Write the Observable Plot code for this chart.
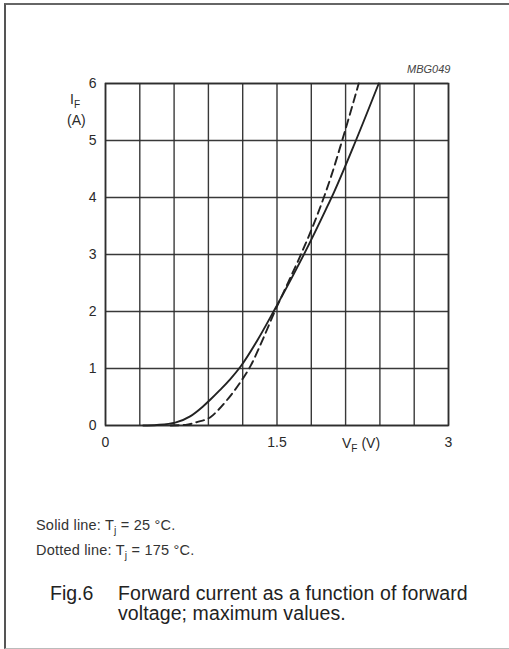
<!DOCTYPE html>
<html>
<head>
<meta charset="utf-8">
<script src="https://cdn.jsdelivr.net/npm/d3@7"></script>
<script src="https://cdn.jsdelivr.net/npm/@observablehq/plot@0.6"></script>
<style>
  html, body { margin: 0; padding: 0; background: #fff; }
  #page { position: relative; width: 509px; height: 649px; overflow: hidden; background: #fff;
          font-family: "Liberation Sans", Arial, Helvetica, sans-serif; color: #2a2a2a; }
  #border { position: absolute; left: 4px; top: 3px; width: 520px; height: 643px;
            border-left: 2px solid #555; border-top: 2px solid #666; border-bottom: 1px solid #bbb; }
  #chart { position: absolute; left: 0; top: 0; }
  .lbl { position: absolute; white-space: nowrap; line-height: 1; }
  .lbl sub { font-size: 0.72em; vertical-align: -0.35em; line-height: 0; }
</style>
</head>
<body>
<div id="page">
  <div id="border"></div>
  <div id="chart"></div>
  <div class="lbl" style="left:407px; top:64px; font-size:11px; font-style:italic; color:#444;">MBG049</div>
  <div class="lbl" style="left:70px; top:92px; font-size:14px;">I<sub>F</sub></div>
  <div class="lbl" style="left:67px; top:113px; font-size:14px;">(A)</div>
  <div class="lbl" style="left:342px; top:436px; font-size:14px;">V<sub>F</sub> (V)</div>
  <div class="lbl" style="left:36px; top:518px; font-size:14.5px; letter-spacing:0.2px; color:#333;">Solid line: T<sub>j</sub> = 25 °C.</div>
  <div class="lbl" style="left:36px; top:543px; font-size:14.5px; letter-spacing:0.2px; color:#333;">Dotted line: T<sub>j</sub> = 175 °C.</div>
  <div class="lbl" style="left:50px; top:584px; font-size:19.5px; color:#222;">Fig.6</div>
  <div class="lbl" style="left:118px; top:584px; font-size:19.5px; letter-spacing:0.1px; color:#222;">Forward current as a function of forward</div>
  <div class="lbl" style="left:118px; top:604px; font-size:19.5px; letter-spacing:0.1px; color:#222;">voltage; maximum values.</div>
</div>
<script>
// Tick values
const xGridTicks = [0, 0.3, 0.6, 0.9, 1.2, 1.5, 1.8, 2.1, 2.4, 2.7, 3];
const xLabelTicks = [0, 1.5, 3];
const yTicks = [0, 1, 2, 3, 4, 5, 6];

// Solid line: Tj = 25 °C  (VF in V, IF in A)
const solidV = [0.33, 0.45, 0.61, 0.74, 0.85, 0.92, 1.00, 1.09, 1.18, 1.33, 1.47, 1.60, 1.73, 1.93, 2.00, 2.19, 2.39];
const solidI = [0.00, 0.01, 0.05, 0.16, 0.33, 0.46, 0.62, 0.81, 1.03, 1.50, 2.00, 2.48, 2.98, 3.80, 4.10, 5.00, 6.00];

// Dotted line: Tj = 175 °C
const dashedV = [0.57, 0.70, 0.80, 0.92, 0.99, 1.06, 1.18, 1.27, 1.38, 1.48, 1.60, 1.72, 1.85, 1.97, 2.07, 2.215];
const dashedI = [0.00, 0.01, 0.06, 0.15, 0.28, 0.44, 0.76, 1.05, 1.53, 2.00, 2.52, 3.05, 3.68, 4.35, 5.00, 6.00];

const solid = solidV.map((v, i) => ({v, i: solidI[i]}));
const dashed = dashedV.map((v, i) => ({v, i: dashedI[i]}));

const ink = "#2e2e2e";
const chart = Plot.plot({
  width: 509,
  height: 470,
  marginLeft: 105,
  marginRight: 61,
  marginTop: 83,
  marginBottom: 45,
  style: {fontFamily: "'Liberation Sans', Arial, Helvetica, sans-serif", fontSize: "14px", color: "#2a2a2a", background: "transparent"},
  x: {domain: [0, 3]},
  y: {domain: [0, 6]},
  marks: [
    Plot.gridX(xGridTicks, {stroke: ink, strokeOpacity: 0.95, strokeWidth: 1.4}),
    Plot.gridY(yTicks, {stroke: ink, strokeOpacity: 0.95, strokeWidth: 1.4}),
    Plot.frame({stroke: ink, strokeWidth: 1.6}),
    Plot.axisX(xLabelTicks, {tickSize: 0, tickPadding: 12, label: null, tickFormat: d => String(d)}),
    Plot.axisY(yTicks, {tickSize: 0, tickPadding: 9, label: null, tickFormat: d => String(d)}),
    Plot.line(solid, {x: "v", y: "i", curve: "monotone-x", stroke: "#222", strokeWidth: 1.9}),
    Plot.line(dashed, {x: "v", y: "i", curve: "monotone-x", stroke: "#222", strokeWidth: 1.9, strokeDasharray: "8,5"})
  ]
});
document.getElementById("chart").appendChild(chart);
</script>
</body>
</html>
